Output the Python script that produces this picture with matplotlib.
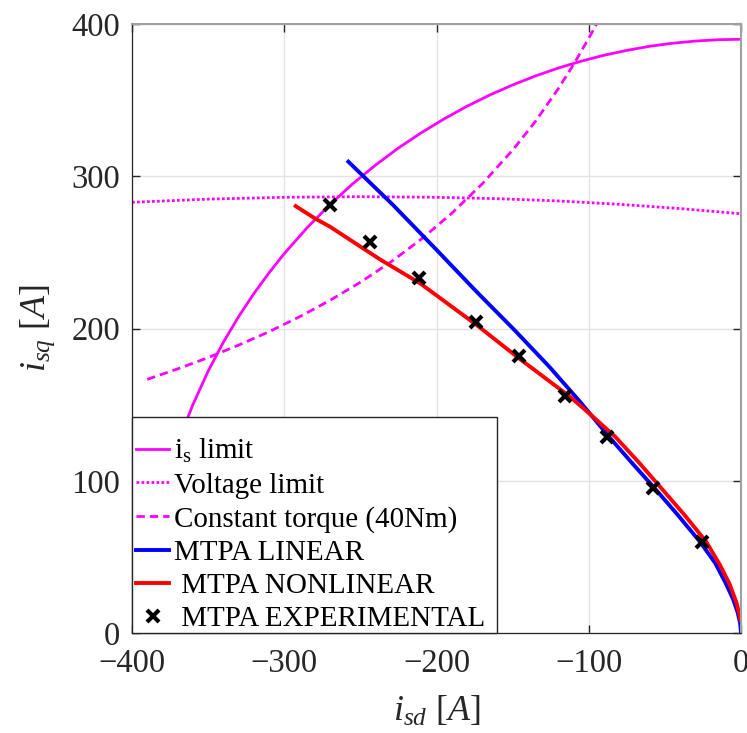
import matplotlib
matplotlib.use("Agg")
import matplotlib.pyplot as plt
from matplotlib.patches import Rectangle

plt.rcParams['font.family'] = ['Liberation Serif', 'DejaVu Serif']
plt.rcParams['mathtext.fontset'] = 'custom'
plt.rcParams['mathtext.rm'] = 'Liberation Serif'
plt.rcParams['mathtext.it'] = 'Liberation Serif:italic'

# current limit (circle)
is_id = [-390, -389.5, -389, -388, -386, -384, -380, -375, -370, -365, -360,
         -350, -340, -330, -320, -310, -300, -285, -270, -255, -240, -225,
         -210, -195, -180, -165, -150, -135, -120, -105, -90, -75, -60, -45,
         -30, -15, 0]
is_iq = [0, 19.7, 27.9, 39.4, 55.7, 68.1, 87.7, 107.1, 123.3, 137.4, 150.0,
         172.0, 191.0, 207.8, 222.9, 236.6, 249.2, 266.2, 281.4, 295.1, 307.4,
         318.6, 328.6, 337.7, 346.0, 353.4, 360.0, 365.9, 371.1, 375.6, 379.5,
         382.7, 385.4, 387.4, 388.8, 389.7, 390.0]

# voltage limit
vl_id = [-400, -350, -300, -250, -200, -160, -120, -80, -40, 0]
vl_iq = [282.9, 285.0, 286.2, 286.6, 286.2, 285.3, 283.8, 281.6, 278.8, 275.4]

# constant torque (40Nm)
ct_id = [-390, -370, -350, -330, -310, -290, -270, -250, -230, -210, -190,
         -170, -150, -135, -120, -110, -100, -95]
ct_iq = [166.6, 173.5, 180.9, 189.1, 197.9, 207.7, 218.5, 230.4, 243.7, 258.7,
         275.7, 295.0, 317.2, 336.1, 357.6, 373.4, 390.7, 399.8]

# MTPA linear
lin_id = [-257.9, -228.4, -199.9, -174.0, -148.3, -126.0, -105.8, -86.5, -71.0,
          -57.0, -41.5, -27.0, -17.0, -10.2, -5.3, -2.2, -0.6, 0]
lin_iq = [309.6, 281.0, 251.6, 224.5, 198.5, 175.0, 152.0, 128.7, 111.0,
          95.4, 77.5, 60.0, 46.0, 33.0, 22.5, 13.5, 6.5, 0]

# MTPA nonlinear
nl_id = [-292.5, -279.8, -270.0, -237.1, -210.8, -173.6, -145.8, -112.3,
         -97.5, -82.7, -67.5, -52.6, -37.5, -22.9, -14.0, -7.6, -3.0, -1.0, -0.4]
nl_iq = [280.4, 272.3, 266.9, 245.4, 229.7, 202.3, 180.4, 155.2,
         142.3, 129.0, 112.5, 95.4, 78.0, 60.0, 45.0, 32.4, 20.0, 12.0, 8.5]

# MTPA experimental
ex_id = [-270.0, -243.7, -211.5, -174.0, -145.8, -115.6, -88.0, -58.0, -25.8]
ex_iq = [281.0, 256.8, 233.2, 204.3, 181.9, 155.7, 128.7, 95.4, 60.0]

fig = plt.figure(figsize=(7.47, 7.33), dpi=100)
ax = fig.add_axes([0.1767, 0.1364, 0.8153, 0.8308])

mag = '#ff00ff'
ax.plot(is_id, is_iq, color=mag, lw=2, label='$\\mathrm{i_s}$ limit')
ax.plot(vl_id, vl_iq, color=mag, lw=2, ls=(0, (1, 0.8)), label='Voltage limit')
ax.plot(ct_id, ct_iq, color=mag, lw=2, ls=(0, (3, 1.8)), label='Constant torque (40Nm)')
ax.plot(lin_id, lin_iq, color='#0000ff', lw=2.8, label='MTPA LINEAR')
ax.plot(nl_id, nl_iq, color='#ff0000', lw=2.8, label=' MTPA NONLINEAR')
ax.plot(ex_id, ex_iq, ls='none', marker='x', color='black', ms=8, mew=3,
        label=' MTPA EXPERIMENTAL')

ax.set_xlim(-400, 0)
ax.set_ylim(0, 400)
ax.set_xticks([-400, -300, -200, -100, 0])
ax.set_yticks([0, 100, 200, 300, 400])
ax.grid(True, color='#e3e3e3', lw=1)
ax.set_axisbelow(True)
ax.tick_params(direction='in', top=True, right=True, length=6, width=1,
               labelsize=23.5, pad=8.5, colors='#262626')
ax.tick_params(axis='x', pad=11.5)
for s in ['left', 'bottom']:
    ax.spines[s].set_color('#262626')
    ax.spines[s].set_linewidth(0.9)
for s in ['top', 'right']:
    ax.spines[s].set_color('#a0a0a0')
    ax.spines[s].set_linewidth(1.5)

ax.set_xlabel('$i_{sd}\\ [A]$', fontsize=26, labelpad=11, color='#262626')
ax.set_ylabel('$i_{sq}\\ [A]$', fontsize=26, labelpad=10, color='#262626')

# legend box drawn separately so it can sit flush in the corner
ax.add_patch(Rectangle((0, 0), 0.599, 0.355, transform=ax.transAxes,
                       facecolor='white', edgecolor='#262626', lw=1.0,
                       zorder=4.5, clip_on=False))
leg = ax.legend(loc='lower left', bbox_to_anchor=(0.0065, 0.001), fontsize=20.9,
                handlelength=1.15, handletextpad=0.15, borderpad=0,
                borderaxespad=0, labelspacing=0.24, frameon=False)
leg.set_zorder(5)

plt.savefig('out.png', dpi=100)
